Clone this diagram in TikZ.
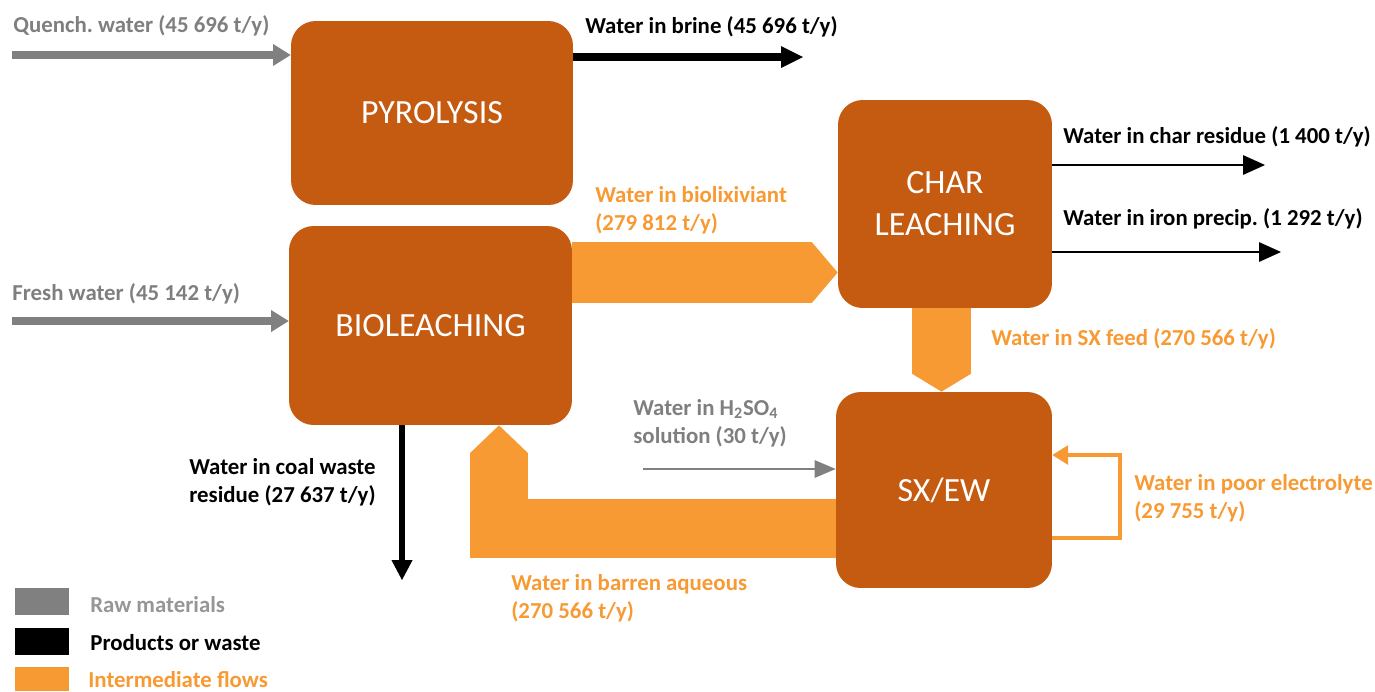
\documentclass[tikz,border=0pt]{standalone}
\usepackage{fontspec}
\setmainfont{Carlito}
\usetikzlibrary{arrows.meta}
\frenchspacing

\definecolor{unitbrown}{RGB}{197,90,17}
\definecolor{flowor}{RGB}{248,154,52}
\definecolor{rawgray}{RGB}{128,128,128}
\definecolor{rawtext}{RGB}{127,127,127}
\definecolor{keytext}{RGB}{150,150,150}

\begin{document}
\begin{tikzpicture}[x=0.02cm,y=-0.02cm,
  unit/.style={fill=unitbrown, rounded corners=14pt, inner sep=0pt, text=white, align=center,
    font=\fontsize{19.3}{23.8}\selectfont},
  lbl/.style={anchor=base west, align=left, inner sep=0pt, font=\fontsize{13}{15.6}\selectfont\bfseries},
  rawflow/.style={draw=rawgray, line width=4.5pt, -{Triangle[length=10pt,width=12.5pt,line width=0pt]}},
  wasteflow/.style={draw=black, line width=4pt, -{Triangle[length=12.5pt,width=12.5pt,line width=0pt]}},
  coalflow/.style={draw=black, line width=3pt, -{Triangle[length=11.3pt,width=12pt,line width=0pt]}},
  thinwaste/.style={draw=black, line width=1.1pt, -{Triangle[length=12.5pt,width=11.3pt,line width=0pt]}},
  thinraw/.style={draw=rawgray, line width=0.9pt, -{Triangle[length=12pt,width=10.2pt,line width=0pt]}},
  loopflow/.style={draw=flowor, line width=1.9pt, -{Triangle[length=9pt,width=11.3pt,line width=0pt]}},
  bigflow/.style 2 args={draw=flowor, line width=#1, -{Triangle[length=#2,width=#1,line width=0pt]}}]
\useasboundingbox (0,0) rectangle (1375,691);

% flows drawn first, units on top
\coordinate (quenchsrc) at (12,55);
\coordinate (brinedst) at (803,57);
\coordinate (freshsrc) at (12,321);
\coordinate (chardst) at (1265,165);
\coordinate (irondst) at (1281,252);
\coordinate (acidsrc) at (643,469);
\coordinate (coaldst) at (402,580);
\coordinate (poorturn) at (1120,538);
\coordinate (poorret) at (1120,455);

\node[unit, minimum width=5.64cm, minimum height=3.68cm] (pyro) at (432,113) {PYROLYSIS};
\node[unit, minimum width=5.66cm, minimum height=3.98cm] (bio) at (430.5,325.5) {BIOLEACHING};
\node[unit, minimum width=4.28cm, minimum height=4.16cm] (char) at (945,204) {CHAR\\LEACHING};
\node[unit, minimum width=4.32cm, minimum height=3.92cm] (sxew) at (944,490) {SX/EW};

\begin{scope}[on background layer/.try]
\draw[bigflow={34.6pt}{14.7pt}] (bio.east |- 0,272.5) -- (char.west |- 0,272.5);
\draw[bigflow={33.5pt}{10.2pt}] (char.south -| 941.5,0) -- (sxew.north -| 941.5,0);
\draw[bigflow={33.2pt}{15.9pt}] (sxew.west |- 0,528.5) -| (bio.south -| 499,0);
\end{scope}

\draw[rawflow] (quenchsrc) -- (quenchsrc -| pyro.west);
\draw[wasteflow] (brinedst -| pyro.east) -- (brinedst);
\draw[rawflow] (freshsrc) -- (freshsrc -| bio.west);
\draw[thinwaste] (chardst -| char.east) -- (chardst);
\draw[thinwaste] (irondst -| char.east) -- (irondst);
\draw[thinraw] (acidsrc) -- (acidsrc -| sxew.west);
\draw[coalflow] (coaldst |- bio.south) -- (coaldst);
\draw[loopflow] (poorturn -| sxew.east) -- (poorturn) -- (poorret) -- (poorret -| sxew.east);

\node[lbl, text=rawtext] (quenchlbl) at (13,32) {Quench. water (45 696 t/y)};
\node[lbl] (brinelbl) at (585,33) {Water in brine (45 696 t/y)};
\node[lbl, text=rawtext] (freshlbl) at (12,300) {Fresh water (45 142 t/y)};
\node[lbl, text=flowor] (biolxlbl) at (595,230) {Water in biolixiviant\\(279 812 t/y)};
\node[lbl] (charreslbl) at (1063,143) {Water in char residue (1 400 t/y)};
\node[lbl] (ironlbl) at (1063,225) {Water in iron precip. (1 292 t/y)};
\node[lbl, text=flowor] (sxfeedlbl) at (991,345) {Water in SX feed (270 566 t/y)};
\node[lbl, text=rawtext] (acidlbl) at (633,443) {Water in H\textsubscript{2}SO\textsubscript{4}\\solution (30 t/y)};
\node[lbl, text=flowor] (barrenlbl) at (511,618) {Water in barren aqueous\\(270 566 t/y)};
\node[lbl] (coallbl) at (189,502) {Water in coal waste\\residue (27 637 t/y)};
\node[lbl, text=flowor] (poorlbl) at (1134,518) {Water in poor electrolyte\\(29 755 t/y)};

% key
\fill[rawgray] (15,588) rectangle (69,615);
\fill[black] (15,628) rectangle (69,655);
\fill[flowor] (15,667) rectangle (69,691);
\node[lbl, text=keytext] (keyraw) at (90,612) {Raw materials};
\node[lbl] (keywaste) at (90,650) {Products or waste};
\node[lbl, text=flowor] (keyinter) at (88,687) {Intermediate flows};
\end{tikzpicture}
\end{document}
